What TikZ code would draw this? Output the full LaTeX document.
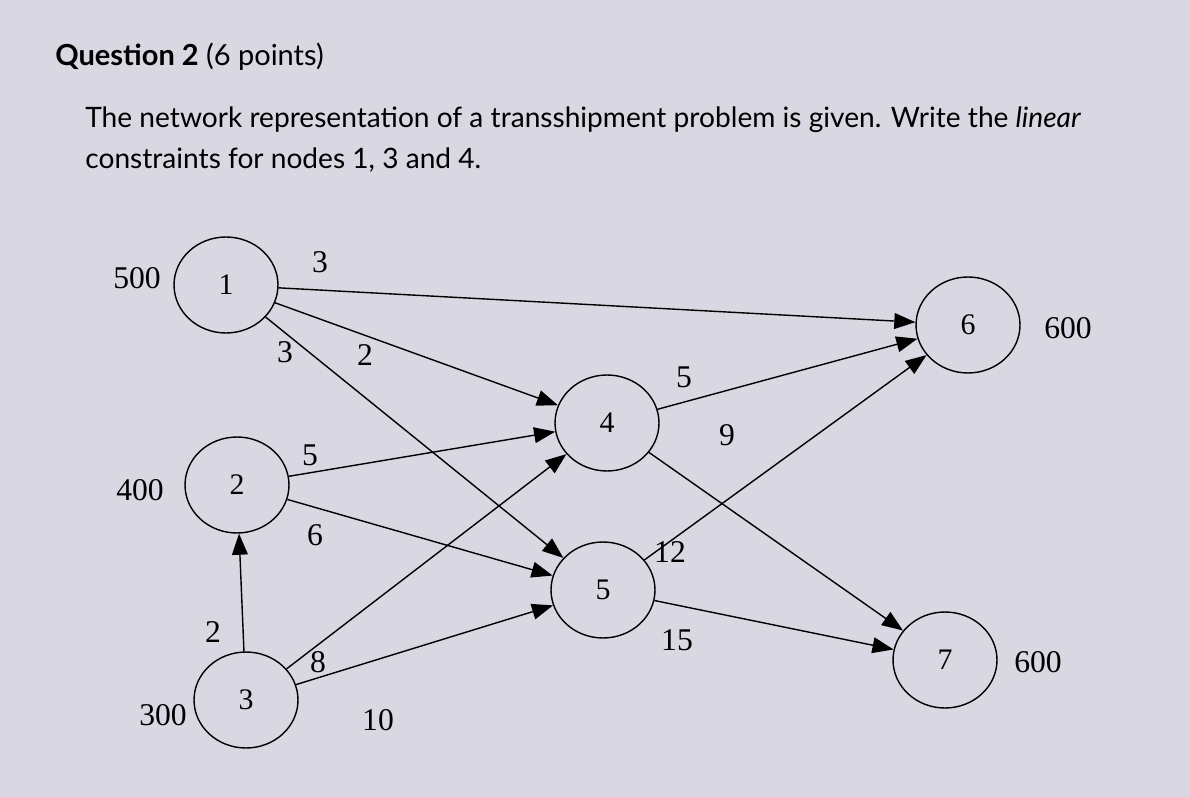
\documentclass[tikz,border=0pt]{standalone}
\usepackage{fontspec}
\setmainfont{Liberation Serif}
\newfontfamily\uifont{Lato}
\usetikzlibrary{shapes.geometric,arrows.meta}
\begin{document}
\begin{tikzpicture}[x=0.02cm,y=-0.02cm,
  nd/.style={draw,thick,ellipse,minimum width=2.08cm,minimum height=1.92cm,inner sep=0pt,font=\fontsize{17}{17}\selectfont},
  ed/.style={thick,-{Triangle[length=12pt,width=9pt]}},
  lb/.style={font=\fontsize{18}{18}\selectfont},
  sl/.style={font=\fontsize{18}{18}\selectfont}]
\fill[fill={rgb,255:red,216;green,215;blue,226}] (0,0) rectangle (1190,797);
\useasboundingbox (0,0) rectangle (1190,797);
\node[anchor=west,inner sep=0pt,font=\uifont\fontsize{16.5}{16.5}\selectfont] (t) at (55,57) {\textbf{Question 2} (6 points)};
\node[anchor=west,inner sep=0pt,font=\uifont\fontsize{16}{16}\selectfont] (l1) at (85,120) {The network representation of a transshipment problem is given. Write the \textit{linear}};
\node[anchor=west,inner sep=0pt,font=\uifont\fontsize{16}{16}\selectfont] (l2) at (85,160) {constraints for nodes 1, 3 and 4.};
\node[nd] (n1) at (226,285) {1};
\node[nd] (n2) at (237,485) {2};
\node[nd] (n3) at (246,700) {3};
\node[nd] (n4) at (607,423) {4};
\node[nd] (n5) at (603,590) {5};
\node[nd] (n6) at (968,325) {6};
\node[nd] (n7) at (945,660) {7};
\node[sl] (s1) at (137,278) {500};
\node[sl] (s2) at (140,490) {400};
\node[sl] (s3) at (163,715) {300};
\node[sl] (d6) at (1068,328) {600};
\node[sl] (d7) at (1038,662) {600};
\draw[ed] (n1) -- (n6);
\draw[ed] (n1) -- (n4);
\draw[ed] (n1) -- (n5);
\draw[ed] (n2) -- (n4);
\draw[ed] (n2) -- (n5);
\draw[ed] (n3) -- (n2);
\draw[ed] (n3) -- (n4);
\draw[ed] (n3) -- (n5);
\draw[ed] (n4) -- (n6);
\draw[ed] (n4) -- (n7);
\draw[ed] (n5) -- (n6);
\draw[ed] (n5) -- (n7);
\node[lb] (c16) at (320,262) {3};
\node[lb] (c14) at (285,352) {3};
\node[lb] (c15) at (365,355) {2};
\node[lb] (c24) at (310,455) {5};
\node[lb] (c25) at (315,535) {6};
\node[lb] (c32) at (213,632) {2};
\node[lb] (c34) at (318,662) {8};
\node[lb] (c35) at (378,720) {10};
\node[lb] (c46) at (684,377) {5};
\node[lb] (c47) at (727,435) {9};
\node[lb] (c56) at (670,552) {12};
\node[lb] (c57) at (677,640) {15};
\end{tikzpicture}
\end{document}
